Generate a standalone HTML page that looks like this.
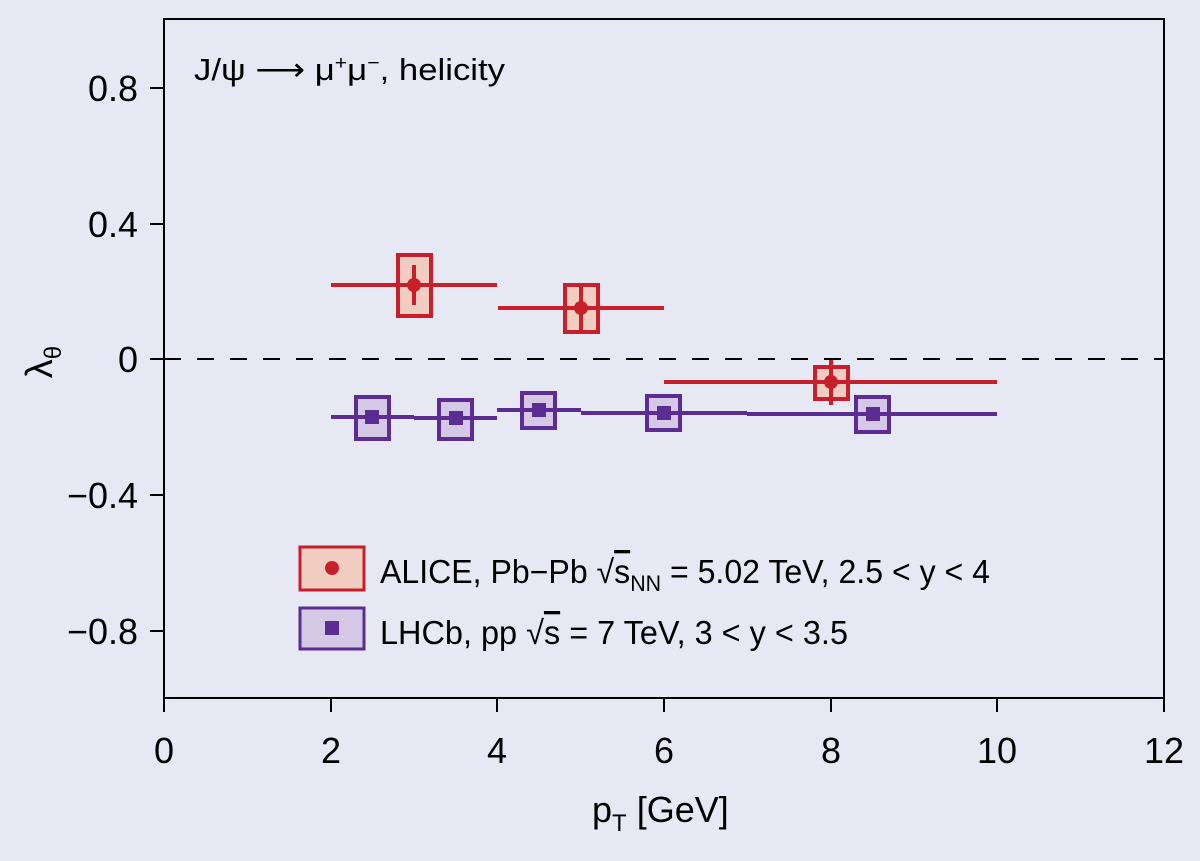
<!DOCTYPE html>
<html><head><meta charset="utf-8"><style>
body{margin:0;background:#e6e9f4;}
svg{display:block;font-family:"Liberation Sans Narrow","Liberation Sans",sans-serif;}
</style></head><body>
<svg width="1200" height="861" viewBox="0 0 1200 861">
<rect width="1200" height="861" fill="#e6e9f4"/>
<rect x="164" y="19" width="1000" height="679" fill="none" stroke="#000" stroke-width="2"/>
<line x1="164" y1="359" x2="1164" y2="359" stroke="#000" stroke-width="2" stroke-dasharray="17,16"/>
<g stroke="#000" stroke-width="2">
<line x1="164" y1="698" x2="164" y2="712"/><line x1="331" y1="698" x2="331" y2="712"/><line x1="497" y1="698" x2="497" y2="712"/><line x1="664" y1="698" x2="664" y2="712"/><line x1="831" y1="698" x2="831" y2="712"/><line x1="997" y1="698" x2="997" y2="712"/><line x1="1164" y1="698" x2="1164" y2="712"/>
<line x1="150" y1="88" x2="164" y2="88"/><line x1="150" y1="224" x2="164" y2="224"/><line x1="150" y1="359" x2="164" y2="359"/><line x1="150" y1="495" x2="164" y2="495"/><line x1="150" y1="631" x2="164" y2="631"/>
</g>
<g font-size="36" fill="#000" text-anchor="middle">
<text x="164" y="763">0</text><text x="331" y="763">2</text><text x="497" y="763">4</text><text x="664" y="763">6</text><text x="831" y="763">8</text><text x="997" y="763">10</text><text x="1164" y="763">12</text>
</g>
<g font-size="36" fill="#000" text-anchor="end">
<text x="138" y="101">0.8</text><text x="138" y="237">0.4</text><text x="138" y="372">0</text><text x="138" y="508">−0.4</text><text x="138" y="644">−0.8</text>
</g>
<text x="592" y="822" font-size="36">p<tspan font-size="24" dy="9">T</tspan><tspan dy="-9"> [GeV]</tspan></text>
<text x="44" y="370" font-size="38" text-anchor="middle" transform="rotate(-90 44 362)">λ<tspan font-size="24" dy="9">θ</tspan></text>
<text x="194" y="80" font-size="31" textLength="311" lengthAdjust="spacingAndGlyphs">J/ψ ⟶ μ<tspan font-size="19" dy="-11">+</tspan><tspan dy="11">μ</tspan><tspan font-size="19" dy="-11">−</tspan><tspan dy="11">, helicity</tspan></text>
<!-- ALICE -->
<g stroke="#c8202a" stroke-width="4" fill="#f0cdc0">
<rect x="398" y="255" width="33" height="61"/>
<rect x="565" y="285" width="33" height="47"/>
<rect x="815" y="367" width="33" height="32"/>
<line x1="331" y1="285" x2="497" y2="285"/><line x1="414" y1="265" x2="414" y2="305"/>
<line x1="498" y1="308" x2="664" y2="308"/><line x1="581" y1="285" x2="581" y2="332"/>
<line x1="664" y1="382" x2="997" y2="382"/><line x1="831" y1="360" x2="831" y2="405"/>
</g>
<g fill="#c8202a"><circle cx="414" cy="285" r="7"/><circle cx="581" cy="308" r="7"/><circle cx="831" cy="382" r="7"/></g>
<!-- LHCb -->
<g stroke="#5b2d92" stroke-width="4" fill="#d4c8e4">
<rect x="356" y="397" width="33" height="42"/>
<rect x="439" y="400" width="33" height="39"/>
<rect x="522" y="393" width="33" height="35"/>
<rect x="647" y="396" width="33" height="34"/>
<rect x="856" y="397" width="33" height="35"/>
<line x1="331" y1="417" x2="414" y2="417"/>
<line x1="414" y1="418" x2="497" y2="418"/>
<line x1="497" y1="410" x2="581" y2="410"/>
<line x1="581" y1="413" x2="747" y2="413"/>
<line x1="747" y1="414" x2="997" y2="414"/>
</g>
<g fill="#5b2d92">
<rect x="365" y="410" width="14" height="14"/><rect x="449" y="411" width="14" height="14"/><rect x="532" y="403" width="14" height="14"/><rect x="657" y="406" width="14" height="14"/><rect x="866" y="407" width="14" height="14"/>
</g>
<!-- legend -->
<rect x="300" y="547" width="64" height="43" fill="#f0cdc0" stroke="#c8202a" stroke-width="3"/>
<circle cx="332" cy="568" r="7" fill="#c8202a"/>
<rect x="300" y="608" width="64" height="41" fill="#d4c8e4" stroke="#5b2d92" stroke-width="3"/>
<rect x="325" y="621" width="14" height="14" fill="#5b2d92"/>
<text x="380" y="583" font-size="33" textLength="610" lengthAdjust="spacingAndGlyphs">ALICE, Pb−Pb √<tspan text-decoration="overline">s</tspan><tspan font-size="22" dy="8">NN</tspan><tspan dy="-8"> = 5.02 TeV, 2.5 &lt; y &lt; 4</tspan></text>
<text x="380" y="644" font-size="33" textLength="468" lengthAdjust="spacingAndGlyphs">LHCb, pp √<tspan text-decoration="overline">s</tspan> = 7 TeV, 3 &lt; y &lt; 3.5</text>
</svg>
</body></html>
